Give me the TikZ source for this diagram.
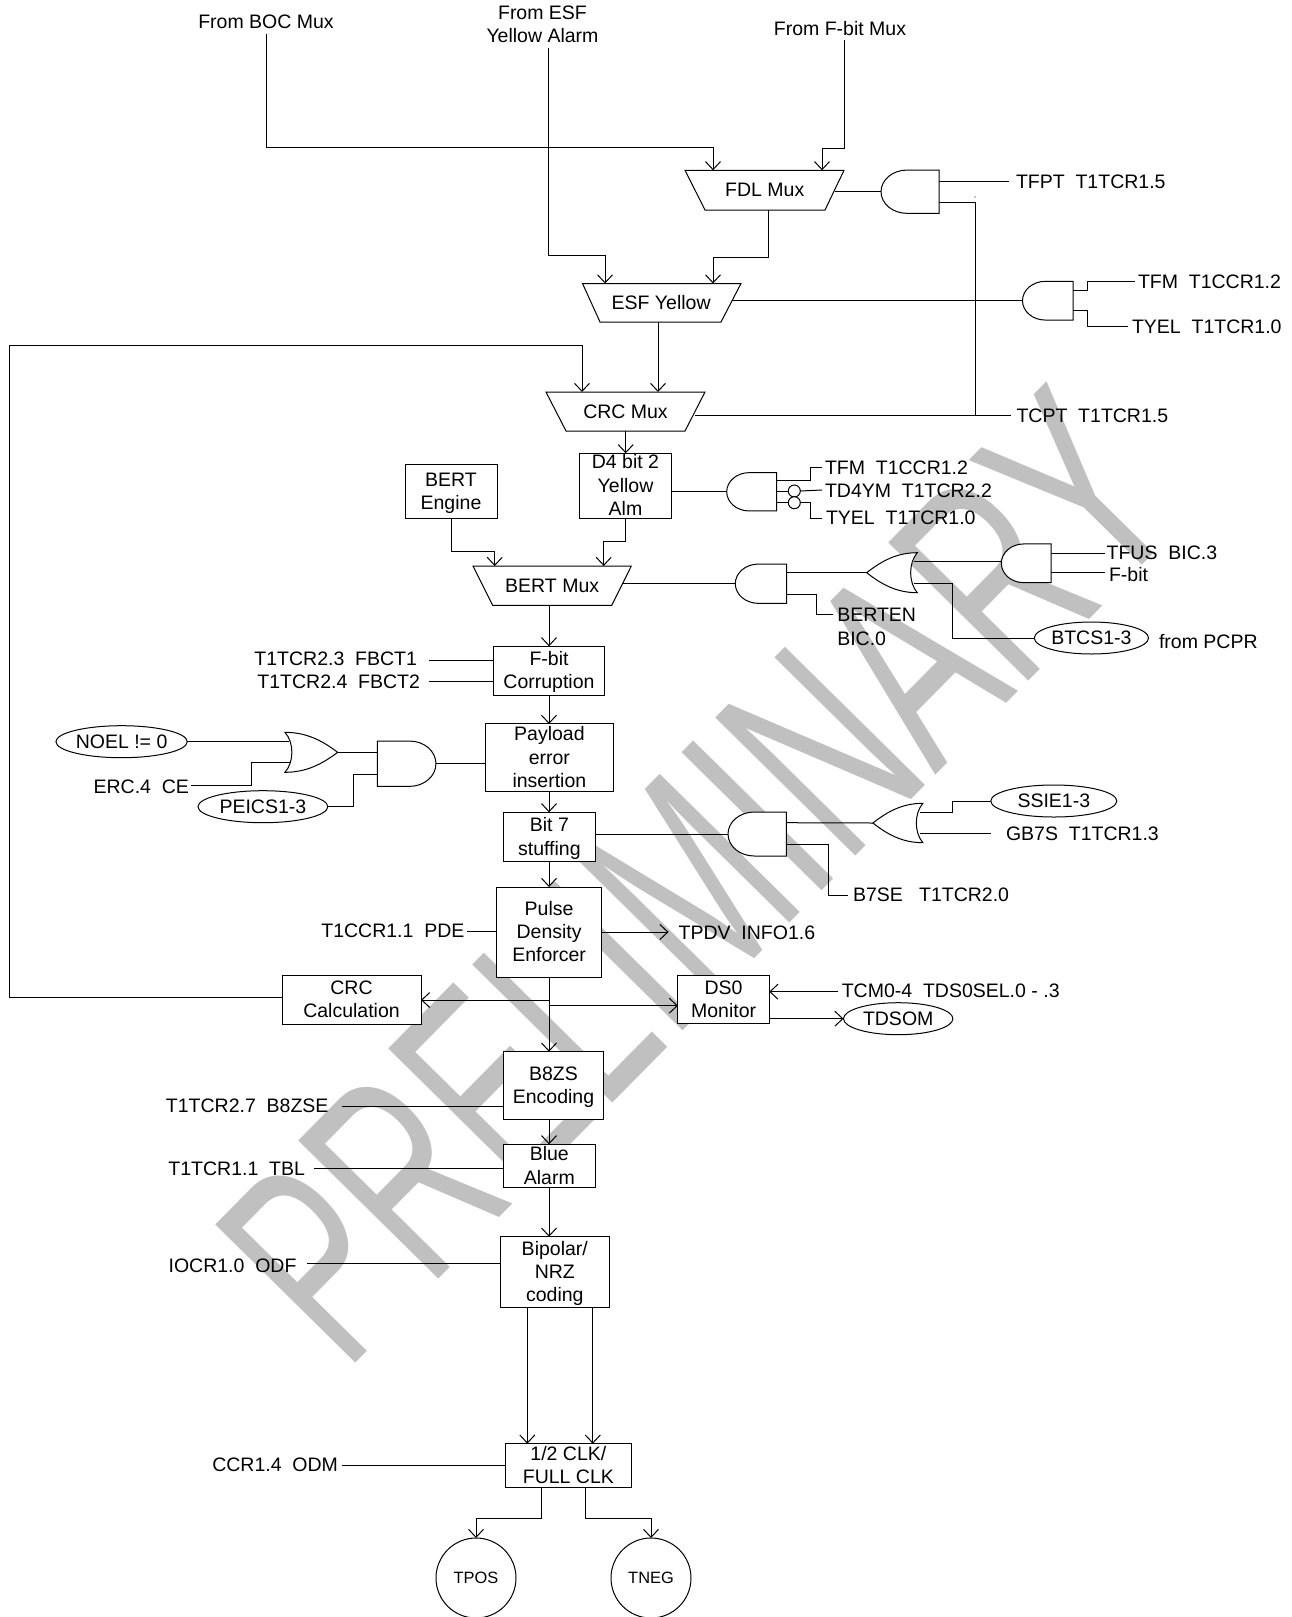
\documentclass[tikz,border=0pt]{standalone}
\usepackage{fontspec}
\setmainfont{Liberation Sans}
\usetikzlibrary{arrows.meta,shapes.geometric}
\definecolor{wmark}{HTML}{C0C0C0}
\pgfdeclarelayer{wmlayer}
\pgfdeclarelayer{wires}
\pgfsetlayers{wmlayer,wires,main}
\newcommand\st{\rule[-5.2pt]{0pt}{23.3pt}}
\tikzset{
  wire/.style={line width=1pt,draw=black,line join=miter},
  arr/.style={wire,-{Straight Barb[length=8pt,width=15pt,line width=1pt]}},
  boxn/.style={draw=black,fill=white,line width=1pt,inner xsep=0pt,inner ysep=-8pt,outer sep=0pt,align=center},
  lab/.style={inner sep=0pt,outer sep=0pt,text height=14pt,text depth=0pt},
  multi/.style={inner sep=0pt,outer sep=0pt,align=center},
  ell/.style={ellipse,draw=black,fill=white,line width=1pt,inner sep=0pt,outer sep=0pt},
  gateshape/.style={draw=black,fill=white,line width=1pt},
  ghost/.style={inner sep=0pt,outer sep=0pt},
  notc/.style={circle,draw=black,fill=white,line width=1pt,inner sep=0pt,outer sep=0pt,minimum size=12pt},
  every node/.append style={font=\fontsize{19.5}{23.3}\selectfont},
}
% name, cx, cy, w, h, dir (+1 output to the right, -1 output to the left)
\newcommand\andgate[6]{%
  \node[ghost,minimum width=#4pt,minimum height=#5pt] (#1) at (#2,#3) {};
  \begin{scope}[shift={(#2,#3)},x=1pt,y=1pt,xscale={#6*#4/2},yscale={#5/2}]
    \draw[gateshape] (-1,-1) -- (.1,-1) .. controls (.6,-1) and (1,-.55) .. (1,0)
      .. controls (1,.55) and (.6,1) .. (.1,1) -- (-1,1) -- cycle;
  \end{scope}}
\newcommand\orgate[6]{%
  \node[ghost,minimum width=#4pt,minimum height=#5pt] (#1) at (#2,#3) {};
  \begin{scope}[shift={(#2,#3)},x=1pt,y=1pt,xscale={#6*#4/2},yscale={#5/2}]
    \draw[gateshape] (-1,-1) .. controls (-.2,-1) and (.4,-.6) .. (1,0)
      .. controls (.4,.6) and (-.2,1) .. (-1,1)
      .. controls (-.65,.5) and (-.65,-.5) .. (-1,-1) -- cycle;
  \end{scope}}
% name, TL, TR, BR, BL, top, bottom, text
\newcommand\muxn[8]{%
  \draw[gateshape] (#2,#6) -- (#3,#6) -- (#4,#7) -- (#5,#7) -- cycle;
  \node[ghost,minimum width={((#3+#4-#2-#5)/2)*1pt},minimum height={(#7-#6)*1pt}] (#1)
    at ({(#2+#3+#4+#5)/4},{(#6+#7)/2}) {#8};}
\begin{document}
\begin{tikzpicture}[x=1pt,y=-1pt]
\useasboundingbox (0,0) rectangle (1291,1617);
\begin{pgfonlayer}{wmlayer}
  \node[inner sep=0pt,outer sep=0pt,anchor=base west,rotate=45.4,xscale=.622,text=wmark,font=\fontsize{286}{286}\selectfont] (wm) at (345.3,1373.7) {PRELIMINARY};
\end{pgfonlayer}

% boxes
\node[boxn,minimum width=92pt,minimum height=54.3pt] (bertengine) at (451,491.2) {\st BERT\\\st Engine};
\node[boxn,minimum width=92.4pt,minimum height=65pt] (dfour) at (625.5,485.8) {\st D4 bit 2\\\st Yellow\\\st Alm};
\node[boxn,minimum width=111.4pt,minimum height=49pt] (fbit) at (549,670.8) {\st F-bit\\\st Corruption};
\node[boxn,minimum width=127.8pt,minimum height=67.3pt] (payload) at (549.4,757.6) {\st Payload\\\st error\\\st insertion};
\node[boxn,minimum width=91.2pt,minimum height=49.4pt] (bitseven) at (549.4,837) {\st Bit 7\\\st stuffing};
\node[boxn,minimum width=105.4pt,minimum height=90pt] (pulse) at (549.1,932) {\st Pulse\\\st Density\\\st Enforcer};
\node[boxn,minimum width=139pt,minimum height=49pt] (crccalc) at (351.5,999.8) {\st CRC\\\st Calculation};
\node[boxn,minimum width=91.3pt,minimum height=48.3pt] (dszero) at (723.6,999.8) {\st DS0\\\st Monitor};
\node[boxn,minimum width=100.4pt,minimum height=68pt] (beight) at (553.5,1085.7) {\st B8ZS\\\st Encoding};
\node[boxn,minimum width=92pt,minimum height=43.4pt] (blue) at (549.3,1166) {\st Blue\\\st Alarm};
\node[boxn,minimum width=109pt,minimum height=70.6pt] (bipolar) at (554.8,1272) {\st Bipolar/\\\st NRZ\\\st coding};
\node[boxn,minimum width=125.9pt,minimum height=43.6pt] (clk) at (568.4,1465.5) {\st 1/2 CLK/\\\st FULL CLK};

% muxes
\muxn{fdl}{685}{844}{825}{705}{170.3}{210}{FDL Mux}
\muxn{esf}{582.5}{741}{721}{600}{283.5}{322}{ESF Yellow}
\muxn{crc}{546}{705}{685}{566}{392}{431}{CRC Mux}
\muxn{bert}{473}{631.3}{611.7}{492.7}{566}{605.3}{BERT Mux}

% gates
\andgate{gfdl}{910}{191.7}{58}{43.3}{-1}
\andgate{gesf}{1047.75}{300.7}{50.5}{38.7}{-1}
\andgate{gdf}{751.7}{491.8}{50}{38.3}{-1}
\andgate{gbert}{761}{583.7}{51.4}{39.3}{-1}
\andgate{gtfus}{1026.2}{563.3}{49.7}{38.7}{-1}
\orgate{obert}{892}{572.7}{50.6}{40}{-1}
\andgate{gpay}{406.7}{763.7}{58.5}{45.3}{1}
\orgate{opay}{311.3}{752.3}{52.7}{40}{1}
\andgate{gbit}{757.2}{834}{58.4}{44}{-1}
\orgate{obit}{897.9}{823}{50}{39.4}{-1}
\node[notc] (nota) at (794.3,491) {};
\node[notc] (notb) at (794.3,502.7) {};

% ovals
\node[ell,minimum width=114.2pt,minimum height=32pt] (btcs) at (1091.4,638) {BTCS1-3};
\node[ell,minimum width=131.3pt,minimum height=32pt] (noel) at (121.6,741.7) {NOEL != 0};
\node[ell,minimum width=129.8pt,minimum height=32pt] (peics) at (262.9,806.7) {PEICS1-3};
\node[ell,minimum width=126pt,minimum height=32pt] (ssie) at (1053.8,801) {SSIE1-3};
\node[ell,minimum width=109.4pt,minimum height=32pt] (tdsom) at (898.2,1018.7) {TDSOM};
\node[circle,draw=black,fill=white,line width=1pt,inner sep=0pt,outer sep=0pt,minimum size=80pt,font=\fontsize{16.4}{20}\selectfont] (tpos) at (476,1578) {TPOS};
\node[circle,draw=black,fill=white,line width=1pt,inner sep=0pt,outer sep=0pt,minimum size=80pt,font=\fontsize{16.4}{20}\selectfont] (tneg) at (651,1578) {TNEG};

% labels
\node[lab] (lboc) at (266,21.6) {From BOC Mux};
\node[multi] (lesf) at (542.5,24.5) {\st From ESF\\\st Yellow Alarm};
\node[lab] (lfb) at (840,28) {From F-bit Mux};
\node[lab,anchor=west] (ltfpt) at (1016,181) {TFPT\ \ T1TCR1.5};
\node[lab,anchor=west] (ltfma) at (1138,281.5) {TFM\ \ T1CCR1.2};
\node[lab,anchor=west] (ltyela) at (1132,326) {TYEL\ \ T1TCR1.0};
\node[lab,anchor=west] (ltcpt) at (1016.5,415) {TCPT\ \ T1TCR1.5};
\node[lab,anchor=west] (ltfmb) at (825,467) {TFM\ \ T1CCR1.2};
\node[lab,anchor=west] (ltdy) at (825,490) {TD4YM\ \ T1TCR2.2};
\node[lab,anchor=west] (ltyelb) at (826,517) {TYEL\ \ T1TCR1.0};
\node[lab,anchor=west] (ltfus) at (1106.6,552) {TFUS\ \ BIC.3};
\node[lab,anchor=west] (lfbit) at (1109,574) {F-bit};
\node[multi,anchor=west,align=left] (lberten) at (837.3,627) {\st BERTEN\\\st BIC.0};
\node[lab,anchor=west] (lpcpr) at (1159,641) {from PCPR};
\node[lab,anchor=east] (lfa) at (417,658) {T1TCR2.3\ \ FBCT1};
\node[lab,anchor=east] (lfb2) at (420,681) {T1TCR2.4\ \ FBCT2};
\node[lab,anchor=east] (lerc) at (189,786) {ERC.4\ \ CE};
\node[lab,anchor=west] (lgb) at (1006,833) {GB7S\ \ T1TCR1.3};
\node[lab,anchor=west] (lbse) at (853,894) {B7SE\ \ \ T1TCR2.0};
\node[lab,anchor=west] (ltpdv) at (678.6,932) {TPDV\ \ INFO1.6};
\node[lab,anchor=east] (lpde) at (464.4,930.5) {T1CCR1.1\ \ PDE};
\node[lab,anchor=west] (ltcm) at (841.8,990.7) {TCM0-4\ \ TDS0SEL.0 - .3};
\node[lab,anchor=east] (lbz) at (328.5,1105.5) {T1TCR2.7\ \ B8ZSE};
\node[lab,anchor=east] (ltbl) at (305,1168) {T1TCR1.1\ \ TBL};
\node[lab,anchor=east] (lodf) at (296.5,1265.5) {IOCR1.0\ \ ODF};
\node[lab,anchor=east] (lodm) at (338,1464) {CCR1.4\ \ ODM};
\fill (975,197) circle (.7pt);

\begin{pgfonlayer}{wires}
  % top section
  \draw[arr] ([yshift=-5pt]lboc.south -| 266,0) |- (713,147.5) -- (713,0 |- fdl.north);
  \draw[arr] (548.5,0 |- lesf.south) |- (605,255.7) -- (605,0 |- esf.north);
  \draw[arr] ([yshift=-5pt]lfb.south -| 844,0) |- (822,148) -- (822,0 |- fdl.north);
  \draw[arr] (768,0 |- fdl.south) |- (713,257) -- (713,0 |- esf.north);
  \draw[arr] (658,0 |- esf.south) -- (658,0 |- crc.north);
  \draw[arr] (crccalc.west |- 0,997) -| (9,345.4) -| (582,0 |- crc.north);
  \draw[wire] (fdl.east |- 0,191.7) -- (gfdl.west |- 0,191.7);
  \draw[wire] (gfdl.east |- 0,181) -- ([xshift=-7pt]ltfpt.west);
  \draw[wire] (gfdl.east |- 0,202.3) -| (975,415);
  \draw[wire] (esf.east |- 0,300.7) -- (gesf.west |- 0,300.7);
  \draw[wire] (gesf.east |- 0,290) -| (1087,281.5) -- ([xshift=-3pt]ltfma.west);
  \draw[wire] (gesf.east |- 0,310.7) -| (1087,326) -- ([xshift=-4pt]ltyela.west);
  \draw[wire] (crc.east |- 0,415) -- ([xshift=-5.5pt]ltcpt.west);
  % D4 and BERT
  \draw[arr] (625.7,0 |- crc.south) -- (625.7,0 |- dfour.north);
  \draw[arr] (625.7,0 |- dfour.south) |- (603.7,541) -- (603.7,0 |- bert.north);
  \draw[arr] (451,0 |- bertengine.south) |- (494.7,551.3) -- (494.7,0 |- bert.north);
  \draw[wire] (dfour.east |- 0,491) -- (gdf.west |- 0,491);
  \draw[wire] (gdf.east |- 0,480.7) -| (810.7,467) -- ([xshift=-3pt]ltfmb.west);
  \draw[wire] (gdf.east |- 0,491) -- (nota.west);
  \draw[wire] (nota.east) -- ([xshift=-3pt]ltdy.west);
  \draw[wire] (gdf.east |- 0,502.7) -- (notb.west);
  \draw[wire] (notb.east) -| (810.7,518) -- ([xshift=-4pt]ltyelb.west |- 0,518);
  \draw[wire] (bert.east |- 0,583.5) -- (gbert.west |- 0,583.5);
  \draw[wire] (gbert.east |- 0,572.7) -- (obert.west);
  \draw[wire] (gbert.east |- 0,594.3) -| (816.7,614) -- ([xshift=-4.6pt]lberten.west |- 0,614);
  \draw[wire] ([xshift=-3pt]obert.east |- 0,561.7) -- (gtfus.west |- 0,561.7);
  \draw[wire] ([xshift=-3pt]obert.east |- 0,583.3) -| (952.7,638) -- (btcs.west);
  \draw[wire] (gtfus.east |- 0,553) -- ([xshift=-1.6pt]ltfus.west |- 0,553);
  \draw[wire] (gtfus.east |- 0,572.7) -- ([xshift=-4pt]lfbit.west |- 0,572.7);
  % main column
  \draw[arr] (549,0 |- bert.south) -- (549,0 |- fbit.north);
  \draw[arr] (549,0 |- fbit.south) -- (549,0 |- payload.north);
  \draw[arr] (549,0 |- payload.south) -- (549,0 |- bitseven.north);
  \draw[arr] (549,0 |- bitseven.south) -- (549,0 |- pulse.north);
  \draw[arr] (549,0 |- pulse.south) -- (549,0 |- beight.north);
  \draw[arr] (549,0 |- beight.south) -- (549,0 |- blue.north);
  \draw[arr] (549,0 |- blue.south) -- (549,0 |- bipolar.north);
  \draw[arr] (527.3,0 |- bipolar.south) -- (527.3,0 |- clk.north);
  \draw[arr] (592.8,0 |- bipolar.south) -- (592.8,0 |- clk.north);
  \draw[arr] (541.9,0 |- clk.south) |- (476,1518) -- (tpos.north);
  \draw[arr] (585.5,0 |- clk.south) |- (651,1518) -- (tneg.north);
  % side inputs
  \draw[wire] ([xshift=12pt]lfa.east |- 0,660) -- (fbit.west |- 0,660);
  \draw[wire] ([xshift=9pt]lfb2.east |- 0,681.7) -- (fbit.west |- 0,681.7);
  \draw[wire] (noel.east) -- ([xshift=4pt]opay.west |- noel.east);
  \draw[wire] ([xshift=2pt]lerc.east |- 0,785.3) -| (251,762.3) -- ([xshift=5pt]opay.west |- 0,762.3);
  \draw[wire] (opay.east) -- (gpay.west |- opay.east);
  \draw[wire] (peics.east) -| (353,774) -- (gpay.west |- 0,774);
  \draw[wire] (gpay.east) -- (payload.west |- gpay.east);
  \draw[wire] (bitseven.east |- 0,834) -- (gbit.west |- 0,834);
  \draw[wire] (gbit.east |- 0,822.7) -- (obit.west);
  \draw[wire] (gbit.east |- 0,844.3) -| (828.2,895) -- ([xshift=-5pt]lbse.west |- 0,895);
  \draw[wire] ([xshift=-3pt]obit.east |- 0,812.3) -| (952.9,801) -- (ssie.west);
  \draw[wire] ([xshift=-3pt]obit.east |- 0,833.3) -- ([xshift=-15pt]lgb.west |- 0,833.3);
  \draw[wire] ([xshift=2.6pt]lpde.east |- 0,931.7) -- (pulse.west |- 0,931.7);
  \draw[arr] (pulse.east |- 0,932) -- ([xshift=-10pt]ltpdv.west |- 0,932);
  \draw[arr] (549,0 |- 0,1000) -- (crccalc.east |- 0,1000);
  \draw[arr] (549,0 |- 0,1005.7) -- (dszero.west |- 0,1005.7);
  \draw[arr] ([xshift=-4.3pt]ltcm.west |- 0,991.7) -- (dszero.east |- 0,991.7);
  \draw[arr] (dszero.east |- tdsom.west) -- (tdsom.west);
  \draw[wire] ([xshift=13.2pt]lbz.east |- 0,1106) -- (beight.west |- 0,1106);
  \draw[wire] ([xshift=9.3pt]ltbl.east |- 0,1168.7) -- (blue.west |- 0,1168.7);
  \draw[wire] ([xshift=10.2pt]lodf.east |- 0,1263.7) -- (bipolar.west |- 0,1263.7);
  \draw[wire] ([xshift=4pt]lodm.east |- 0,1465.3) -- (clk.west |- 0,1465.3);
\end{pgfonlayer}
\end{tikzpicture}
\end{document}
